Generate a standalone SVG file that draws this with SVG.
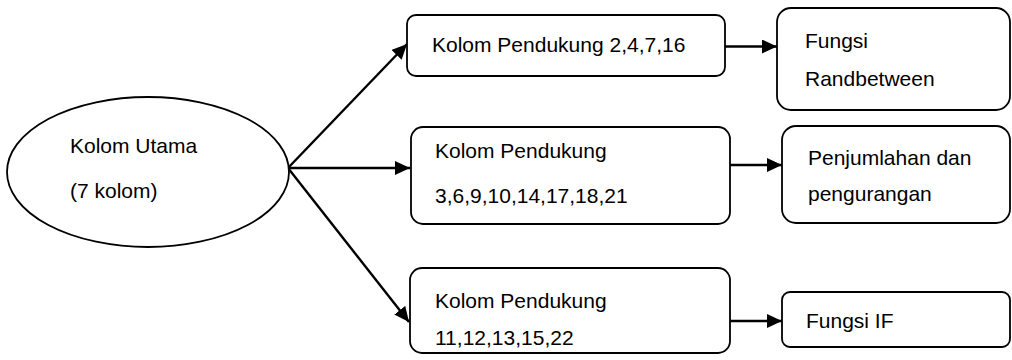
<svg xmlns="http://www.w3.org/2000/svg" width="1012" height="360" viewBox="0 0 1012 360">
<defs>
<marker id="arr" markerUnits="userSpaceOnUse" markerWidth="16" markerHeight="14" refX="15" refY="7" orient="auto">
<path d="M0,0 L15,7 L0,14 z" fill="#000"/>
</marker>
<style>
.box{fill:#fff;stroke:#000;stroke-width:1.8}
.t{font-family:"Liberation Sans",Arial,sans-serif;font-size:21px;fill:#000}
.c{stroke:#000;stroke-width:2.4;fill:none;marker-end:url(#arr)}
</style>
</defs>
<rect width="1012" height="360" fill="#fff"/>
<g id="connectors">
<line class="c" x1="288" y1="168" x2="407" y2="44"/>
<line class="c" x1="288" y1="168" x2="410" y2="168"/>
<line class="c" x1="288" y1="168" x2="409" y2="322"/>
<line class="c" x1="725" y1="46.5" x2="777" y2="46.5"/>
<line class="c" x1="730" y1="165" x2="782" y2="165"/>
<line class="c" x1="730" y1="321" x2="782" y2="321"/>
</g>
<g id="main">
<ellipse class="box" cx="148" cy="172" rx="141" ry="75"/>
<text class="t" x="70" y="153">Kolom Utama</text>
<text class="t" x="70" y="198">(7 kolom)</text>
</g>
<g id="p1">
<rect class="box" x="407" y="15" width="318" height="61" rx="9"/>
<text class="t" x="432" y="52">Kolom Pendukung 2,4,7,16</text>
</g>
<g id="p2">
<rect class="box" x="411" y="127" width="319" height="97" rx="12"/>
<text class="t" x="435" y="158">Kolom Pendukung</text>
<text class="t" x="435" y="203">3,6,9,10,14,17,18,21</text>
</g>
<g id="p3">
<rect class="box" x="410" y="268" width="320" height="85" rx="12"/>
<text class="t" x="435" y="308">Kolom Pendukung</text>
<text class="t" x="435" y="345">11,12,13,15,22</text>
</g>
<g id="f1">
<rect class="box" x="777" y="8" width="233" height="102" rx="14"/>
<text class="t" x="805" y="48">Fungsi</text>
<text class="t" x="805" y="86">Randbetween</text>
</g>
<g id="f2">
<rect class="box" x="782" y="126" width="228" height="97" rx="14"/>
<text class="t" x="808" y="165">Penjumlahan dan</text>
<text class="t" x="808" y="201">pengurangan</text>
</g>
<g id="f3">
<rect class="box" x="782" y="292" width="228" height="55" rx="8"/>
<text class="t" x="806" y="328">Fungsi IF</text>
</g>
</svg>
